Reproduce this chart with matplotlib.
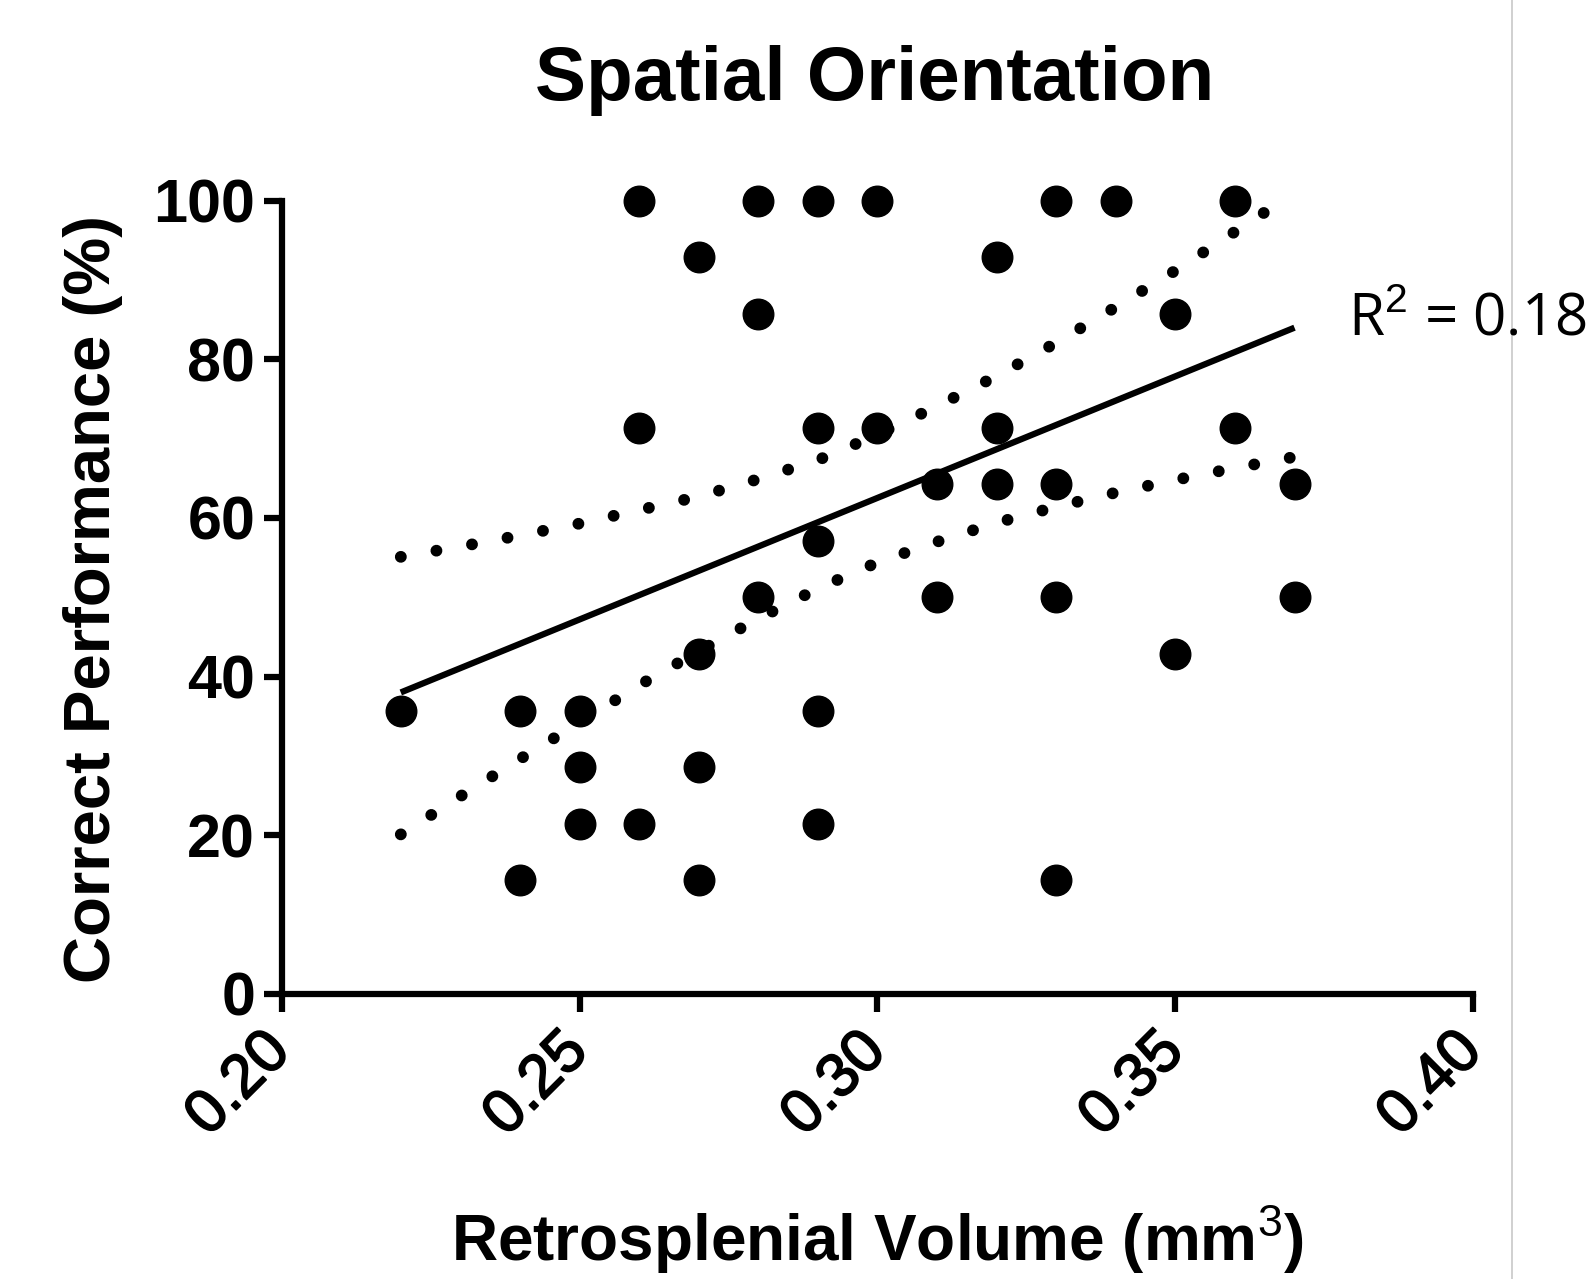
import numpy as np
import matplotlib
matplotlib.use("Agg")
import matplotlib.pyplot as plt
import matplotlib.patheffects as pe
from matplotlib.lines import Line2D

# ---- data ----
volume = [0.22,
          0.24, 0.24,
          0.25, 0.25, 0.25,
          0.26, 0.26, 0.26,
          0.27, 0.27, 0.27, 0.27,
          0.28, 0.28, 0.28,
          0.29, 0.29, 0.29, 0.29, 0.29,
          0.30, 0.30,
          0.31, 0.31,
          0.32, 0.32, 0.32,
          0.33, 0.33, 0.33, 0.33,
          0.34,
          0.35, 0.35,
          0.36, 0.36,
          0.37, 0.37]
performance = [35.7,
               35.7, 14.3,
               35.7, 28.6, 21.4,
               100, 71.4, 21.4,
               92.9, 42.9, 28.6, 14.3,
               100, 85.7, 50,
               100, 71.4, 57.1, 35.7, 21.4,
               100, 71.4,
               64.3, 50,
               92.9, 71.4, 64.3,
               100, 64.3, 50, 14.3,
               100,
               85.7, 42.9,
               100, 71.4,
               64.3, 50]

# regression line (end points)
fit_x = [0.22, 0.37]
fit_y = [38.0, 84.0]

# 95% confidence band
band_x = [0.22, 0.23, 0.24, 0.25, 0.26, 0.27, 0.28, 0.29,
          0.30, 0.31, 0.32, 0.33, 0.34, 0.35, 0.36, 0.37]
band_upper = [55.1, 56.4, 57.8, 59.3, 61.0, 62.7, 64.9, 67.3,
              70.5, 74.1, 77.9, 82.1, 86.6, 91.2, 96.1, 101.0]
band_lower = [20.1, 24.9, 29.6, 34.2, 38.9, 43.2, 47.3, 51.1,
              54.4, 57.0, 59.4, 61.4, 63.2, 64.8, 66.3, 67.7]

x_ticks = [0.20, 0.25, 0.30, 0.35, 0.40]
x_tick_labels = ["0.20", "0.25", "0.30", "0.35", "0.40"]
y_ticks = [0, 20, 40, 60, 80, 100]
r2_text = "R$^{2}$ = 0.18"

plt.rcParams['font.family'] = ['Liberation Sans', 'DejaVu Sans']
plt.rcParams['mathtext.fontset'] = 'custom'
plt.rcParams['mathtext.rm'] = 'Liberation Sans'
plt.rcParams['mathtext.bf'] = 'Liberation Sans:bold'

fig = plt.figure(figsize=(15.91, 12.79), dpi=100)
ax = fig.add_axes([0.177, 0.223, 0.749, 0.620])

ax.plot(fit_x, fit_y, color='black', lw=4.5, zorder=2, solid_capstyle='butt')
for band in (band_upper, band_lower):
    ax.plot(band_x, band, color='black', lw=8.5, linestyle=(0, (0.01, 3.05)),
            dash_capstyle='round', zorder=2)

ax.plot(volume, performance, 'o', color='black', markersize=22,
        clip_on=False, zorder=3)

ax.set_xlim(0.20, 0.40)
ax.set_ylim(0, 100)
for side in ('top', 'right'):
    ax.spines[side].set_visible(False)
for side in ('left', 'bottom'):
    ax.spines[side].set_linewidth(4.5)
ax.tick_params(width=4.5, length=13, direction='out', labelsize=44)
ax.tick_params(axis='y', pad=6)
ax.tick_params(axis='x', pad=22)
ax.set_xticks(x_ticks)
ax.set_xticklabels(x_tick_labels, fontweight='normal', rotation=45,
                   ha='right', va='center', rotation_mode='anchor')
for lab in ax.get_xticklabels():
    lab.set_path_effects([pe.withStroke(linewidth=1.3, foreground='black')])
ax.set_yticks(y_ticks)
ax.set_yticklabels([str(v) for v in y_ticks], fontweight='bold')

fig.text(0.5497, 0.937, "Spatial Orientation", ha='center', va='center',
         fontsize=55, fontweight='bold')
fig.text(0.0587, 0.532, "Correct Performance (%)", ha='center', va='center',
         rotation=90, fontsize=47, fontweight='bold')
fig.text(0.5517, 0.031, r"Retrosplenial Volume (mm$^{\mathrm{3}}$)", ha='center',
         va='center', fontsize=46, fontweight='bold')
fig.text(0.847, 0.750, r2_text, ha='left', va='center', fontsize=42,
         family=['Open Sans', 'DejaVu Sans'])

fig.add_artist(Line2D([0.9505, 0.9505], [0, 1], color='#c8c8c8', lw=1.2,
                      transform=fig.transFigure))

fig.savefig("out.png", dpi=100, facecolor='white')
